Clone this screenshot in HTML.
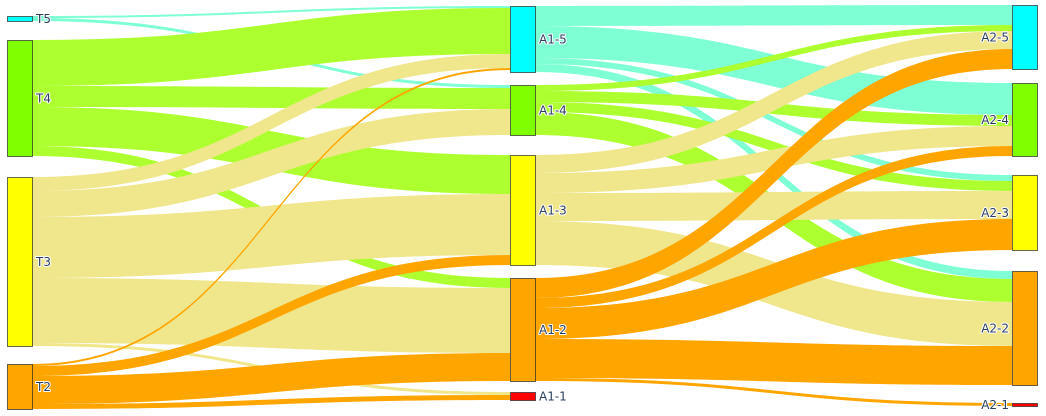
<!DOCTYPE html>
<html><head><meta charset="utf-8">
<style>
html,body{margin:0;padding:0;background:#fff;}
svg{display:block;}
.lbl{font-family:"DejaVu Sans","Liberation Sans",sans-serif;font-size:12px;fill:#2a3f5f;paint-order:stroke;stroke:#fff;stroke-width:2px;stroke-linejoin:round;}
</style></head>
<body>
<svg id="chart" width="1046" height="416"></svg>
<script>
const nodeLabels = ["T5","T4","T3","T2","A1-5","A1-4","A1-3","A1-2","A1-1","A2-5","A2-4","A2-3","A2-2","A2-1"];
const linkSources = [0,0, 1,1,1,1, 2,2,2,2,2, 3,3,3,3, 4,4,4,4, 5,5,5,5, 6,6,6,6, 7,7,7,7,7];
const linkTargets = [4,5, 4,5,6,7, 4,5,6,7,8, 4,6,7,8, 9,10,11,12, 9,10,11,12, 9,10,11,12, 9,10,11,12,13];
const linkValues  = [2,3, 46,21,39,10, 14,26,61,65,3, 2,10,28,5, 20,32,6,8, 6,11,10,23, 18,20,28,44, 20,10,31,39,3];

// layout (not data)
const nodeCol = [0,0,0,0,1,1,1,1,1,2,2,2,2,2];
const nodeTop = [16,40,177,364,6,85,155,278,392,5,83,175,271,403];
const colX = [7,510,1012];
const nodeW = 25;
const scale = 1;
const nodeFill = ["#00ffff","#7fff00","#ffff00","#ffa500","#00ffff","#7fff00","#ffff00","#ffa500","#ff0000","#00ffff","#7fff00","#ffff00","#ffa500","#ff0000"];
const linkFill = {0:"#7fffd4",1:"#adff2f",2:"#f0e68c",3:"#ffa500",4:"#7fffd4",5:"#adff2f",6:"#f0e68c",7:"#ffa500",8:"#ff0000"};

const svg = document.getElementById('chart');
const NS = "http://www.w3.org/2000/svg";
const N = nodeLabels.length;
const inSum = new Array(N).fill(0), outSum = new Array(N).fill(0);
linkValues.forEach((v,i)=>{outSum[linkSources[i]]+=v; inSum[linkTargets[i]]+=v;});
const nodeH = nodeLabels.map((_,i)=>Math.max(inSum[i],outSum[i])*scale);

const idx = linkValues.map((_,i)=>i);
const outOff = new Array(N).fill(0), inOff = new Array(N).fill(0);
const sy = [], ty = [];
idx.slice().sort((a,b)=>nodeTop[linkTargets[a]]-nodeTop[linkTargets[b]]).forEach(i=>{
  const s = linkSources[i]; sy[i] = nodeTop[s] + outOff[s]; outOff[s] += linkValues[i]*scale;
});
idx.slice().sort((a,b)=>nodeTop[linkSources[a]]-nodeTop[linkSources[b]]).forEach(i=>{
  const t = linkTargets[i]; ty[i] = nodeTop[t] + inOff[t]; inOff[t] += linkValues[i]*scale;
});

const gL = document.createElementNS(NS,'g');


svg.appendChild(gL);
idx.forEach(i=>{
  const s = linkSources[i], t = linkTargets[i], w = linkValues[i]*scale;
  const x0 = colX[nodeCol[s]]+nodeW, x1 = colX[nodeCol[t]];
  const xm = (x0+x1)/2;
  const y0 = sy[i], y1 = ty[i];
  const d = `M${x0},${y0} C${xm},${y0} ${xm},${y1} ${x1},${y1} L${x1},${y1+w} C${xm},${y1+w} ${xm},${y0+w} ${x0},${y0+w} Z`;
  const p = document.createElementNS(NS,'path');
  p.setAttribute('d',d);
  p.setAttribute('fill',linkFill[s]);
  
  
  gL.appendChild(p);
});

const gN = document.createElementNS(NS,'g');


svg.appendChild(gN);
nodeLabels.forEach((lab,i)=>{
  const x = colX[nodeCol[i]], y = nodeTop[i], h = Math.max(nodeH[i],3);
  const r = document.createElementNS(NS,'rect');
  r.setAttribute('x',x+0.5); r.setAttribute('y',y+0.5);
  r.setAttribute('width',nodeW); r.setAttribute('height',h);
  r.setAttribute('fill',nodeFill[i]);
  r.setAttribute('stroke','rgba(40,40,40,0.7)'); r.setAttribute('stroke-width','1');
  
  
  gN.appendChild(r);
  const t = document.createElementNS(NS,'text');
  t.setAttribute('class','lbl');
  const cy = y + h/2 + 4.5;
  if (nodeCol[i] === 2) { t.setAttribute('x', x-3); t.setAttribute('text-anchor','end'); }
  else { t.setAttribute('x', x+nodeW+4); }
  t.setAttribute('y', cy);
  t.textContent = lab;
  
  
  gN.appendChild(t);
});
</script>
</body></html>
